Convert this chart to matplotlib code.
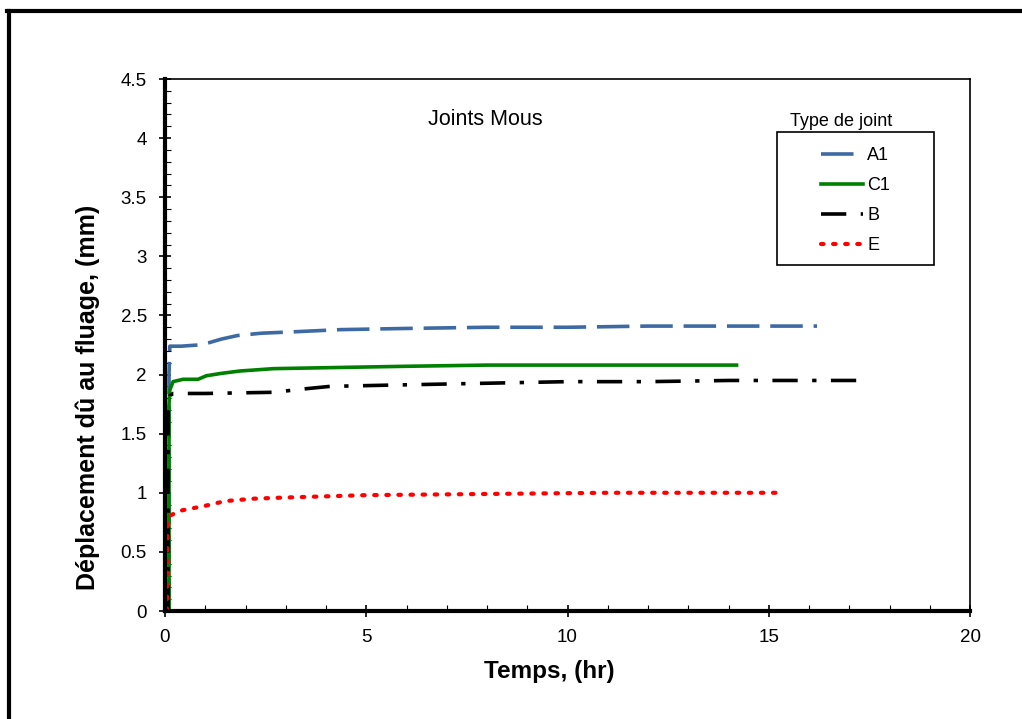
import matplotlib.pyplot as plt
import numpy as np
from matplotlib.lines import Line2D
from matplotlib.patches import Rectangle
from matplotlib.ticker import MultipleLocator

plt.rcParams['font.family'] = ['Liberation Sans', 'DejaVu Sans']

# valeurs
t_a1 = [0.10, 0.10, 0.12, 0.4, 0.82, 1.1, 1.4, 1.8, 2.4, 3.1, 4.35, 6, 8, 10, 12, 14, 16.2]
d_a1 = [0.0, 2.0, 2.24, 2.24, 2.25, 2.27, 2.30, 2.33, 2.35, 2.36, 2.38, 2.39, 2.40, 2.40, 2.41, 2.41, 2.41]

t_c1 = [0.10, 0.10, 0.12, 0.2, 0.45, 0.82, 1.03, 1.4, 1.86, 2.7, 4.35, 6, 8, 10, 12, 14.2]
d_c1 = [0.0, 1.75, 1.87, 1.94, 1.96, 1.96, 1.99, 2.01, 2.03, 2.05, 2.06, 2.07, 2.08, 2.08, 2.08, 2.08]

t_b = [0.08, 0.08, 0.12, 0.2, 1.0, 2.7, 3.5, 4.1, 5.5, 7, 10, 12, 14, 17.2]
d_b = [0.0, 1.70, 1.82, 1.84, 1.84, 1.85, 1.88, 1.90, 1.91, 1.92, 1.94, 1.94, 1.95, 1.95]

t_e = [0.05, 0.05, 0.06, 0.07, 0.14, 0.4, 0.7, 1.0, 1.5, 2.2, 3, 4, 5, 6.5, 8, 11, 13, 15.3]
d_e = [0.0, 0.33, 0.67, 0.75, 0.81, 0.85, 0.87, 0.89, 0.93, 0.95, 0.96, 0.97, 0.98, 0.985, 0.99, 1.0, 1.0, 1.0]

W, H = 1022, 719
fig = plt.figure(figsize=(W/100, H/100), dpi=100)
ax = fig.add_axes([165/W, 1-611/H, (970-165)/W, (611-79)/H])

ax.plot(t_a1, d_a1, color='#3D6AA3', lw=2.6, dashes=(9, 3), label='A1')
ax.plot(t_c1, d_c1, color='#008000', lw=2.6, label='C1')
ax.plot(t_b, d_b, color='black', lw=2.6, dashes=(7, 4, 1.2, 4), label='B')
ax.plot(t_e, d_e, color='red', lw=3, linestyle=(0, (0.6, 2.3)),
        dash_capstyle='round', label='E')

ax.set_xlim(0, 20)
ax.set_ylim(0, 4.5)
ax.xaxis.set_major_locator(MultipleLocator(5))
ax.xaxis.set_minor_locator(MultipleLocator(1))
ax.yaxis.set_minor_locator(MultipleLocator(0.1))
ax.set_yticks(np.arange(0, 4.51, 0.5))
ax.set_yticklabels(['0', '0.5', '1', '1.5', '2', '2.5', '3', '3.5', '4', '4.5'])

ax.tick_params(which='major', direction='inout', length=8, width=1.2, labelsize=13.5)
ax.tick_params(which='minor', direction='in', length=4, width=0.8)
ax.tick_params(axis='x', which='major', pad=9)
ax.tick_params(axis='y', which='major', pad=9)

for s in ['left', 'bottom']:
    ax.spines[s].set_linewidth(3)
for s in ['top', 'right']:
    ax.spines[s].set_linewidth(1.2)

ax.set_xlabel('Temps, (hr)', fontsize=17.5, fontweight='bold')
ax.set_ylabel('Déplacement dû au fluage, (mm)', fontsize=18, fontweight='bold')
ax.xaxis.set_label_coords(0.478, -0.092)
ax.yaxis.set_label_coords(-0.081, 0.402)

ax.text(7.95, 4.16, 'Joints Mous', fontsize=15.5, ha='center', va='center')

# légende : cadre dessiné à part, titre au-dessus du cadre
fig.add_artist(Rectangle((777/W, 1-265/H), 157/W, 133/H, transform=fig.transFigure,
                         fill=False, edgecolor='black', lw=1.2))
fig.text(790/W, 1-122/H, 'Type de joint', fontsize=13, ha='left', va='center')
ax.legend(loc='upper left', bbox_to_anchor=(821/W, 1-147/H), bbox_transform=fig.transFigure,
          frameon=False, fontsize=13, handlelength=2.3, handletextpad=0.25,
          labelspacing=0.72, borderpad=0, borderaxespad=0)

# cadre extérieur (haut et gauche)
fig.add_artist(Line2D([7/W, 1], [1-10.5/H, 1-10.5/H], color='black', lw=3))
fig.add_artist(Line2D([8.5/W, 8.5/W], [0, 1-10.5/H], color='black', lw=3))

fig.savefig('out.png', dpi=100)
